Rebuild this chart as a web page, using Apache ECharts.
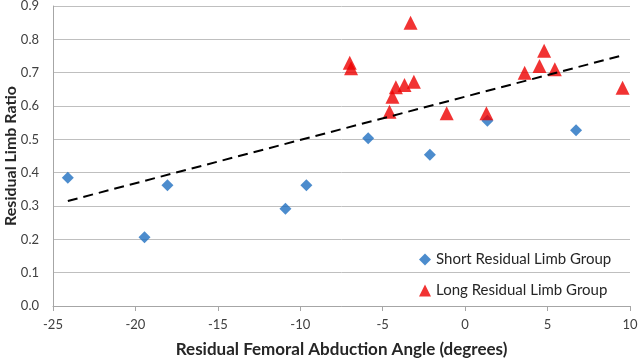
<!DOCTYPE html>
<html><head><meta charset="utf-8">
<script src="https://cdn.jsdelivr.net/npm/echarts@6/dist/echarts.min.js"></script>
<style>html,body{margin:0;padding:0;background:#fff}#c{width:640px;height:358px}</style>
</head><body><div id="c"></div>
<script>
const shortGroup = [[-24.1,0.385],[-19.45,0.206],[-18.06,0.362],[-10.9,0.292],[-9.63,0.362],[-5.88,0.503],[-2.14,0.454],[1.35,0.556],[6.73,0.527]];
const longGroup = [[-7.0,0.730],[-6.92,0.713],[-3.31,0.850],[-4.2,0.656],[-3.68,0.663],[-3.11,0.673],[-4.41,0.628],[-4.59,0.583],[-1.12,0.578],[1.29,0.578],[3.61,0.700],[4.51,0.720],[4.79,0.766],[5.44,0.710],[9.55,0.655]];
const trendLine = [[-24.1,0.315],[9.55,0.752]];
const seriesNames = ['Short Residual Limb Group','Long Residual Limb Group'];
const xTitle = 'Residual Femoral Abduction Angle (degrees)';
const yTitle = 'Residual Limb Ratio';
const font = 'Lato, "Noto Sans", sans-serif';
const chart = echarts.init(document.getElementById('c'));
chart.setOption({
  animation:false,
  grid:{left:53,right:10,top:6,bottom:52,containLabel:false,outerBoundsMode:'none'},
  xAxis:{type:'value',min:-25,max:10,interval:5,
    name:xTitle,nameLocation:'middle',nameGap:35,nameMoveOverlap:false,
    nameTextStyle:{fontFamily:font,fontSize:17,fontWeight:'bold',color:'#262626'},
    axisLine:{onZero:false,lineStyle:{color:'#a6a6a6'}},axisTick:{show:true,length:5,lineStyle:{color:'#a6a6a6'}},
    splitLine:{show:false},
    axisLabel:{fontFamily:font,fontSize:13,color:'#404040',margin:12}},
  yAxis:{type:'value',min:0,max:0.9,interval:0.1,
    name:yTitle,nameLocation:'middle',nameGap:34,nameMoveOverlap:false,
    nameTextStyle:{fontFamily:font,fontSize:16,fontWeight:'bold',color:'#262626'},
    axisLine:{show:true,onZero:false,lineStyle:{color:'#a6a6a6'}},axisTick:{show:false},
    splitLine:{lineStyle:{color:'#bfbfbf'}},
    axisLabel:{fontFamily:font,fontSize:13,color:'#404040',margin:14,formatter:v=>v.toFixed(1)}},
  legend:{orient:'vertical',left:414,top:247,itemGap:16,itemWidth:12,itemHeight:12,
    textStyle:{fontFamily:font,fontSize:15,color:'#262626'},
    data:[{name:seriesNames[0],icon:'diamond'},{name:seriesNames[1],icon:'triangle'}]},
  series:[
    {name:seriesNames[0],type:'scatter',symbol:'diamond',symbolSize:12,itemStyle:{color:'#1f6fc0'},data:shortGroup,z:3},
    {name:seriesNames[1],type:'scatter',symbol:'triangle',symbolSize:14,itemStyle:{color:'#ee0000'},data:longGroup,z:3},
    {name:'trend',type:'line',data:trendLine,symbol:'none',lineStyle:{color:'#000',width:2,type:[10,6]},z:4,silent:true}
  ]
});
</script></body></html>
